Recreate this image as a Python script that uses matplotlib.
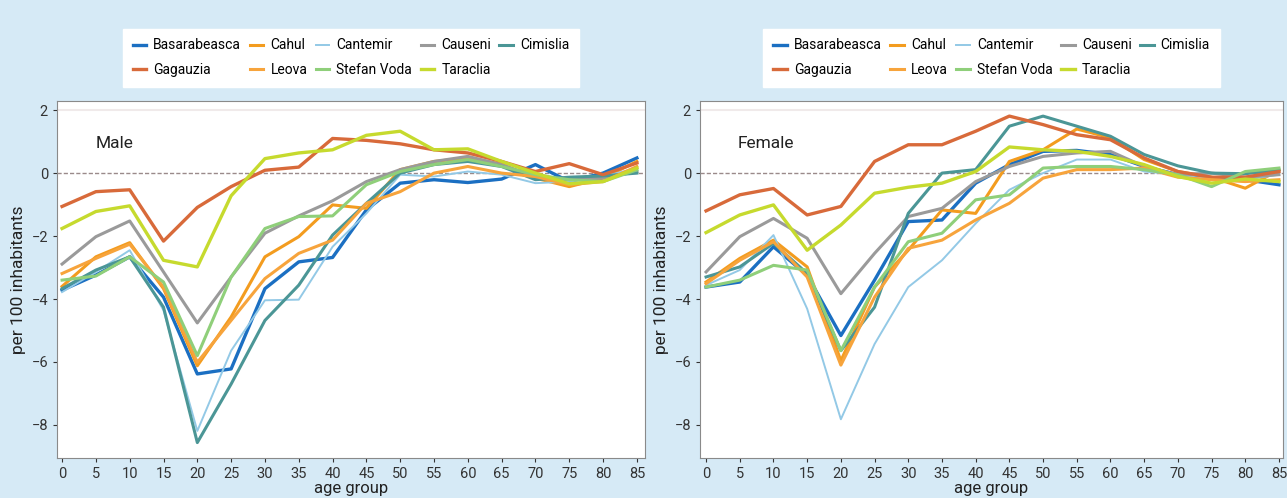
import matplotlib
matplotlib.use('Agg')
import matplotlib.pyplot as plt
import numpy as np

# age groups (lower bound of 5-year group)
ages = [0, 5, 10, 15, 20, 25, 30, 35, 40, 45, 50, 55, 60, 65, 70, 75, 80, 85]

districts = ['Basarabeasca', 'Cahul', 'Cantemir', 'Causeni', 'Cimislia',
             'Gagauzia', 'Leova', 'Stefan Voda', 'Taraclia']

# net migration per 100 inhabitants
male_basarabeasca = [-3.72, -3.24, -2.66, -3.94, -6.38, -6.22, -3.67, -2.82, -2.68, -1.17, -0.32, -0.21, -0.30, -0.19, 0.27, -0.27, 0.00, 0.48]
male_cahul = [-3.60, -2.66, -2.21, -3.67, -6.12, -4.57, -2.66, -2.02, -1.01, -1.12, 0.11, 0.37, 0.48, 0.27, -0.16, -0.43, -0.16, 0.37]
male_cantemir = [-3.78, -3.14, -2.45, -4.36, -8.19, -5.64, -4.04, -4.02, -2.34, -1.28, -0.05, -0.11, 0.05, -0.05, -0.32, -0.27, -0.11, 0.16]
male_causeni = [-2.89, -2.02, -1.52, -3.14, -4.76, -3.30, -1.91, -1.36, -0.88, -0.27, 0.11, 0.37, 0.53, 0.27, -0.11, -0.21, -0.16, 0.05]
male_cimislia = [-3.67, -3.08, -2.66, -4.26, -8.56, -6.70, -4.68, -3.56, -1.97, -0.96, 0.00, 0.27, 0.37, 0.21, -0.21, -0.13, -0.09, 0.00]
male_gagauzia = [-1.06, -0.59, -0.53, -2.16, -1.09, -0.43, 0.09, 0.19, 1.10, 1.04, 0.93, 0.74, 0.64, 0.37, 0.05, 0.30, -0.05, 0.32]
male_leova = [-3.19, -2.71, -2.26, -3.62, -6.01, -4.68, -3.35, -2.55, -2.13, -0.96, -0.59, 0.00, 0.21, 0.00, -0.11, -0.37, -0.27, 0.21]
male_stefan_voda = [-3.40, -3.27, -2.66, -3.46, -5.80, -3.30, -1.76, -1.38, -1.36, -0.37, 0.05, 0.27, 0.43, 0.21, -0.05, -0.21, -0.27, 0.10]
male_taraclia = [-1.76, -1.22, -1.04, -2.77, -2.98, -0.72, 0.46, 0.64, 0.74, 1.20, 1.33, 0.74, 0.77, 0.37, 0.00, -0.34, -0.27, 0.16]

female_basarabeasca = [-3.62, -3.46, -2.34, -3.24, -5.16, -3.40, -1.54, -1.49, -0.32, 0.27, 0.69, 0.72, 0.59, 0.21, -0.05, -0.16, -0.21, -0.37]
female_cahul = [-3.46, -2.71, -2.13, -2.98, -5.96, -3.62, -2.45, -1.17, -1.28, 0.37, 0.74, 1.40, 1.12, 0.43, 0.05, -0.13, -0.48, 0.10]
female_cantemir = [-3.56, -3.08, -1.97, -4.31, -7.82, -5.43, -3.62, -2.77, -1.60, -0.53, 0.00, 0.43, 0.43, 0.05, -0.05, -0.21, -0.21, -0.05]
female_causeni = [-3.14, -2.02, -1.44, -2.07, -3.83, -2.55, -1.38, -1.12, -0.27, 0.21, 0.53, 0.64, 0.69, 0.21, -0.05, 0.00, -0.13, -0.05]
female_cimislia = [-3.30, -2.98, -2.23, -3.19, -5.64, -4.26, -1.28, 0.00, 0.11, 1.49, 1.81, 1.49, 1.17, 0.59, 0.23, 0.00, -0.02, 0.10]
female_gagauzia = [-1.20, -0.69, -0.49, -1.33, -1.06, 0.37, 0.90, 0.90, 1.33, 1.81, 1.54, 1.22, 1.06, 0.48, 0.05, -0.13, -0.13, 0.05]
female_leova = [-3.51, -2.77, -2.18, -3.30, -6.10, -3.94, -2.39, -2.13, -1.49, -0.96, -0.16, 0.11, 0.11, 0.16, -0.13, -0.21, -0.27, -0.21]
female_stefan_voda = [-3.62, -3.40, -2.93, -3.08, -5.64, -3.62, -2.18, -1.91, -0.85, -0.69, 0.16, 0.21, 0.21, 0.11, -0.05, -0.43, 0.05, 0.16]
female_taraclia = [-1.89, -1.33, -1.01, -2.45, -1.65, -0.64, -0.45, -0.32, 0.05, 0.83, 0.74, 0.69, 0.53, 0.27, -0.11, -0.32, -0.19, -0.27]

male = [male_basarabeasca, male_cahul, male_cantemir, male_causeni, male_cimislia,
        male_gagauzia, male_leova, male_stefan_voda, male_taraclia]
female = [female_basarabeasca, female_cahul, female_cantemir, female_causeni, female_cimislia,
          female_gagauzia, female_leova, female_stefan_voda, female_taraclia]

colors = ['#1b6fc2', '#f39c1f', '#93c9e6', '#9a9a9a', '#4b9696',
          '#d86a3a', '#f7a43c', '#8fcf7a', '#c6da2e']
widths = [2.4, 2.2, 1.4, 2.2, 2.2, 2.4, 2.2, 2.2, 2.4]

# legend order (column-major for 2 rows x 5 cols)
legend_order = [0, 5, 1, 6, 2, 7, 3, 8, 4]

BG = '#d6eaf6'
plt.rcParams['font.family'] = ['Roboto', 'DejaVu Sans']

fig = plt.figure(figsize=(12.87, 4.98), dpi=100, facecolor=BG)

panels = [
    ('Male', male, [57 / 1287, 1 - 458 / 498, 588 / 1287, 357 / 498], (-0.75, 86.2)),
    ('Female', female, [700 / 1287, 1 - 458 / 498, 583 / 1287, 357 / 498], (-0.9, 85.6)),
]

for title, series, rect, xlim in panels:
    ax = fig.add_axes(rect)
    ax.set_facecolor('white')
    lines = []
    for vals, c, lw, name in zip(series, colors, widths, districts):
        ln, = ax.plot(ages, vals, color=c, lw=lw, label=name, zorder=3)
        lines.append(ln)
    ax.axhline(0, color='#9a8a8a', lw=1.0, ls=(0, (3, 1.5)), zorder=2)
    ax.axhline(2, color='#f0eaea', lw=1.5, zorder=1)

    ax.set_xlim(*xlim)
    ax.set_ylim(-9.05, 2.29)
    ax.set_xticks(ages)
    ax.set_yticks([2, 0, -2, -4, -6, -8])
    ax.tick_params(axis='both', labelsize=10.5, colors='#333333', length=3, width=0.8)
    for s in ax.spines.values():
        s.set_color('#8a8a8a')
        s.set_linewidth(0.8)
    ax.set_xlabel('age group', fontsize=12, color='#222222', labelpad=0)
    ax.set_ylabel('per 100 inhabitants', fontsize=12.5, color='#222222', labelpad=4)
    ax.text(0.065, 0.88, title, transform=ax.transAxes, fontsize=12.5,
            color='#222222', va='center', ha='left')

    leg = ax.legend([lines[i] for i in legend_order], [districts[i] for i in legend_order],
                    ncol=5, loc='upper center', bbox_to_anchor=(0.5, 1.222),
                    fontsize=10, frameon=True, fancybox=False, handlelength=1.0,
                    handletextpad=0.5, columnspacing=0.6, labelspacing=0.75,
                    borderpad=0.7)
    leg.get_frame().set_facecolor('white')
    leg.get_frame().set_edgecolor('white')
    leg.get_frame().set_alpha(1)

fig.savefig('out.png', dpi=100, facecolor=BG)
